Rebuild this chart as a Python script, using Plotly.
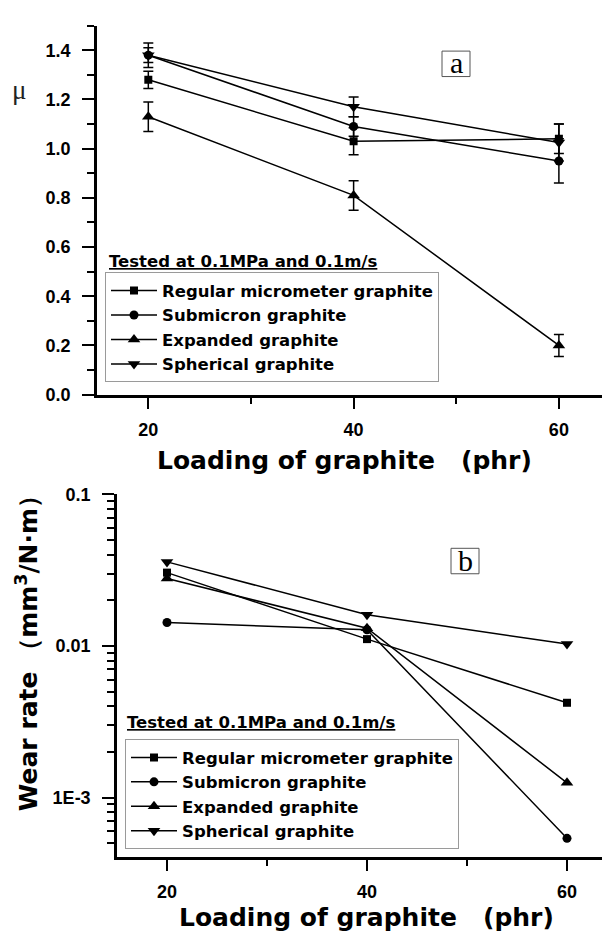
import plotly.graph_objects as go

# ---------------- data ----------------
loading = [20, 40, 60]

series_names = ["Regular micrometer graphite", "Submicron graphite",
                "Expanded graphite", "Spherical graphite"]
symbols = ["square", "circle", "triangle-up", "triangle-down"]

mu_regular = [1.28, 1.03, 1.04]
mu_submicron = [1.38, 1.09, 0.95]
mu_expanded = [1.13, 0.81, 0.20]
mu_spherical = [1.38, 1.17, 1.025]

mu_err_regular = [0.035, 0.055, 0.06]
mu_err_submicron = [0.03, 0.04, 0.09]
mu_err_expanded = [0.06, 0.06, 0.045]
mu_err_spherical = [0.05, 0.04, 0.075]

wr_regular = [0.0305, 0.0111, 0.00422]
wr_submicron = [0.0143, 0.0128, 0.000538]
wr_expanded = [0.0279, 0.0131, 0.00125]
wr_spherical = [0.0359, 0.0161, 0.0103]

log_tick_vals = [0.1, 0.01, 0.001]
log_tick_text = ["0.1", "0.01", "1E-3"]

legend_title = "Tested at 0.1MPa and 0.1m/s"

# ---------------- figure ----------------
W, H = 602, 941
def px(x):
    return x / W
def py(y):
    return 1 - y / H

SANS = "Liberation Sans, Arial, sans-serif"
WIDE = "DejaVu Sans, sans-serif"
SERIF = "Liberation Serif, Times New Roman, serif"

fig = go.Figure()

mu_vals = [mu_regular, mu_submicron, mu_expanded, mu_spherical]
mu_errs = [mu_err_regular, mu_err_submicron, mu_err_expanded, mu_err_spherical]
wr_vals = [wr_regular, wr_submicron, wr_expanded, wr_spherical]

msize = {"square": 8, "circle": 9, "triangle-up": 11, "triangle-down": 11}

for name, sym, yv, ev in zip(series_names, symbols, mu_vals, mu_errs):
    fig.add_trace(go.Scatter(
        x=loading, y=yv, name=name, mode="lines+markers",
        line=dict(color="black", width=1.5),
        marker=dict(symbol=sym, size=msize[sym], color="black"),
        error_y=dict(type="data", array=ev, visible=True, color="black",
                     thickness=1.5, width=5),
        xaxis="x", yaxis="y", legend="legend"))

for name, sym, yv in zip(series_names, symbols, wr_vals):
    fig.add_trace(go.Scatter(
        x=loading, y=yv, name=name, mode="lines+markers",
        line=dict(color="black", width=1.5),
        marker=dict(symbol=sym, size=msize[sym], color="black"),
        xaxis="x2", yaxis="y2", legend="legend2"))

axis_common = dict(showline=True, linecolor="black", linewidth=2.5,
                   ticks="outside", ticklen=12, tickwidth=2, tickcolor="black",
                   showgrid=False, zeroline=False,
                   tickfont=dict(family=SANS, size=18, color="black", weight="bold"))

minor_log = [m * 10 ** e for e in (-2, -3) for m in range(2, 10)] + [m * 1e-4 for m in range(4, 10)]

legend_font = dict(family=WIDE, size=16.5, color="black", weight="bold")
legend_common = dict(font=legend_font,
                     bgcolor="white", bordercolor="#9a9a9a", borderwidth=1,
                     xanchor="left", yanchor="top", itemwidth=46,
                     tracegroupgap=0)

fig.update_layout(
    width=W, height=H, margin=dict(l=0, r=0, t=0, b=0),
    paper_bgcolor="white", plot_bgcolor="white",
    xaxis=dict(domain=[px(97), 1], anchor="y", range=[15, 64.2],
               tickmode="linear", tick0=20, dtick=20, ticklabelstandoff=5,
               minor=dict(tick0=20, dtick=10, ticks="outside", ticklen=7,
                          tickwidth=2, tickcolor="black"),
               **axis_common),
    yaxis=dict(domain=[py(393), py(16)], anchor="x", range=[0, 1.5],
               tickmode="linear", tick0=0, dtick=0.2, tickformat=".1f",
               ticklabelstandoff=8,
               minor=dict(tick0=0, dtick=0.1, ticks="outside", ticklen=7,
                          tickwidth=2, tickcolor="black"),
               **axis_common),
    xaxis2=dict(domain=[px(117), 1], anchor="y2", range=[15, 63.5],
                tickmode="linear", tick0=20, dtick=20, ticklabelstandoff=5,
                minor=dict(tick0=20, dtick=10, ticks="outside", ticklen=7,
                           tickwidth=2, tickcolor="black"),
                **axis_common),
    yaxis2=dict(domain=[py(865), py(495)], anchor="x2", type="log",
                range=[-3.39, -1], tickmode="array", tickvals=log_tick_vals,
                ticktext=log_tick_text, ticklabelstandoff=8,
                minor=dict(tickmode="array", tickvals=minor_log, ticks="outside",
                           ticklen=7, tickwidth=2, tickcolor="black"),
                **axis_common),
    legend=dict(x=px(105), y=py(268), **legend_common),
    legend2=dict(x=px(125), y=py(745), **legend_common),
    showlegend=True,
)

title_font = dict(family=WIDE, size=25, color="black", weight="bold")
ann = [
    dict(text="Loading of graphite\u00a0\u00a0\u00a0(phr)", x=px(344), y=py(460),
         font=title_font),
    dict(text="Loading of graphite\u00a0\u00a0\u00a0(phr)", x=px(366), y=py(927),
         font=title_font),
    dict(text="Wear rate \uff08mm<sup>3</sup>/N\u00b7m\uff09", x=px(27), y=py(651),
         textangle=-90, font=title_font),
    dict(text="\u03bc", x=px(19), y=py(82), font=dict(family=SERIF, size=27, color="#222")),
    dict(text=legend_title, x=px(243), y=py(257),
         font=dict(legend_font, lineposition="under")),
    dict(text=legend_title, x=px(261), y=py(728),
         font=dict(legend_font, lineposition="under")),
    dict(text="a", x=px(456), y=py(54), font=dict(family=SERIF, size=30, color="black")),
    dict(text="b", x=px(465), y=py(562), font=dict(family=SERIF, size=30, color="black")),
]
for a in ann:
    a.update(xref="paper", yref="paper", showarrow=False,
             xanchor="center", yanchor="middle")
    fig.add_annotation(**a)

shapes = [
    dict(x0=px(442), x1=px(470), y0=py(68), y1=py(42)),
    dict(x0=px(451), x1=px(479), y0=py(576), y1=py(550)),
]
for s in shapes:
    fig.add_shape(type="rect", xref="paper", yref="paper",
                  line=dict(color="#555", width=1), fillcolor="rgba(0,0,0,0)", **s)

fig.write_html("out.html")
